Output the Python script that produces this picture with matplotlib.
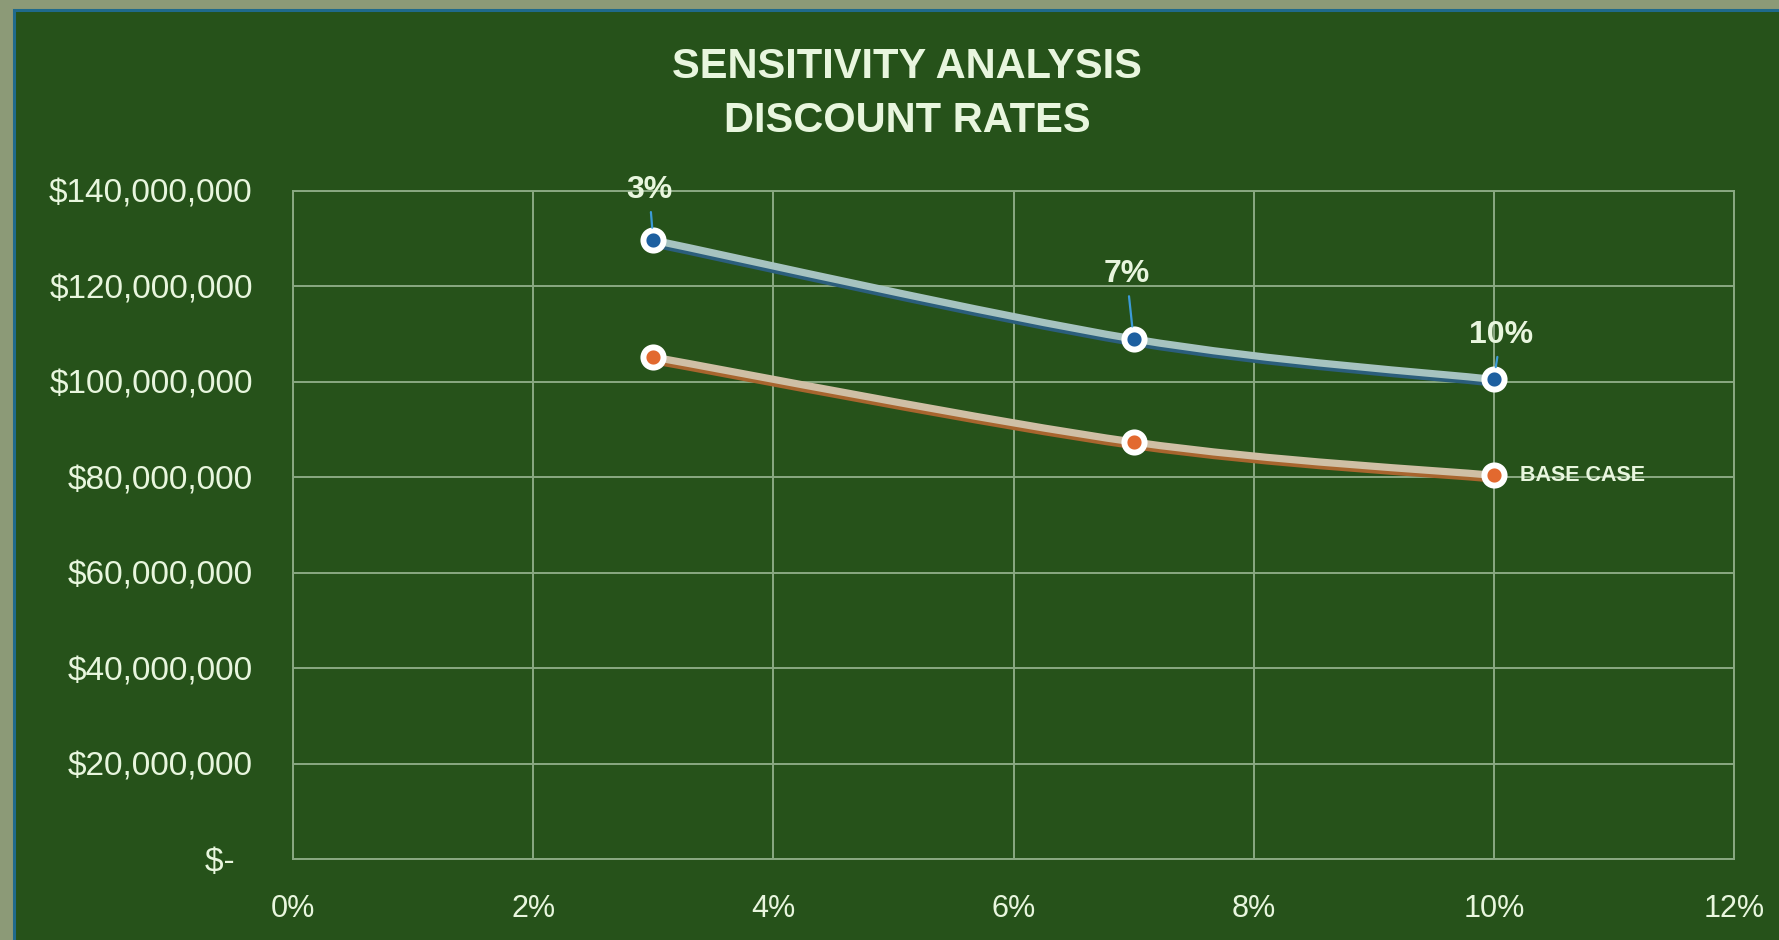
import numpy as np
import matplotlib
matplotlib.use("Agg")
import matplotlib.pyplot as plt
from matplotlib.path import Path
from matplotlib.patches import PathPatch, Rectangle
from matplotlib.transforms import ScaledTranslation
from matplotlib.ticker import FuncFormatter, PercentFormatter

# Discount rates tested and resulting values
rates = [0.03, 0.07, 0.10]
rate_labels = ["3%", "7%", "10%"]
sensitivity_values = [129.7e6, 109.0e6, 100.5e6]
base_case_values = [105.2e6, 87.4e6, 80.4e6]
base_case_label = "BASE CASE"

x_ticks = [0.0, 0.02, 0.04, 0.06, 0.08, 0.10, 0.12]
y_ticks = [0, 20e6, 40e6, 60e6, 80e6, 100e6, 120e6, 140e6]
title_lines = ["SENSITIVITY ANALYSIS", "DISCOUNT RATES"]

PANEL = "#26521a"
OUTER = "#8c9a77"
GRID = "#8aa982"
TEXT = "#e8f6de"

plt.rcParams["font.family"] = ["Liberation Sans", "DejaVu Sans"]

W, H = 1779, 940
fig = plt.figure(figsize=(W / 100, H / 100), dpi=100)
fig.patch.set_facecolor(OUTER)

# green chart panel with a thin blue border
fig.add_artist(Rectangle((14 / W, -0.01), 1.0, (H - 10) / H + 0.01,
                         transform=fig.transFigure, facecolor=PANEL,
                         edgecolor="#1f6a8c", lw=2.2, zorder=0))

ax = fig.add_axes([293 / W, 81 / H, 1441 / W, 668 / H])
ax.set_facecolor(PANEL)
ax.set_xlim(0, 0.12)
ax.set_ylim(0, 140e6)
ax.set_xticks(x_ticks)
ax.set_yticks(y_ticks)
ax.grid(True, color=GRID, lw=1.4)
ax.set_axisbelow(True)
for sp in ax.spines.values():
    sp.set_color(GRID)
    sp.set_linewidth(1.4)


def money(v, _pos):
    return "$-  " if v == 0 else f"${v:,.0f}"


ax.yaxis.set_major_formatter(FuncFormatter(money))
ax.xaxis.set_major_formatter(PercentFormatter(xmax=1, decimals=0))
ax.tick_params(axis="y", length=0, pad=29, labelsize=24, labelcolor=TEXT)
ax.tick_params(axis="x", length=0, pad=25, labelsize=22, labelcolor=TEXT)


def smooth_path(xs, ys):
    pts = np.column_stack([xs, ys]).astype(float)
    n = len(pts)
    verts, codes = [pts[0]], [Path.MOVETO]
    for i in range(n - 1):
        p0 = pts[i - 1] if i > 0 else pts[i]
        p1, p2 = pts[i], pts[i + 1]
        p3 = pts[i + 2] if i + 2 < n else pts[i + 1]
        verts += [p1 + (p2 - p0) / 6, p2 - (p3 - p1) / 6, p2]
        codes += [Path.CURVE4] * 3
    return Path(verts, codes)


shadow_tr = ax.transData + ScaledTranslation(0, -2.6 / 72, fig.dpi_scale_trans)


def draw_series(ys, light, dark, fill):
    path = smooth_path(rates, ys)
    ax.add_patch(PathPatch(path, facecolor="none", edgecolor=dark, lw=5.2,
                           capstyle="round", transform=shadow_tr, zorder=3))
    ax.add_patch(PathPatch(path, facecolor="none", edgecolor=light, lw=5.2,
                           capstyle="round", zorder=4))
    ax.plot(rates, ys, "o", ms=14.5, mfc=fill, mec="white", mew=4.3, zorder=5,
            clip_on=False)


draw_series(sensitivity_values, "#a6c3c0", "#2b5e7c", "#1d5fa0")
draw_series(base_case_values, "#cfbfa5", "#a8652e", "#e2692f")

# rate labels with leader lines above the sensitivity points
offsets = [(-3, 36), (-5, 46.5), (5, 32)]
for xv, yv, lab, off in zip(rates, sensitivity_values, rate_labels, offsets):
    ax.annotate(lab, (xv, yv), xytext=off, textcoords="offset points",
                ha="center", va="center", fontsize=23, fontweight="bold",
                color=TEXT, zorder=6,
                arrowprops=dict(arrowstyle="-", color="#3c9ad6", lw=1.6,
                                shrinkA=3, shrinkB=9))

ax.annotate(base_case_label, (rates[-1], base_case_values[-1]),
            xytext=(19, 0), textcoords="offset points", ha="left",
            va="center", fontsize=15.5, fontweight="bold", color=TEXT, zorder=6)

fig.text(907 / W, 1 - 67 / H, title_lines[0], ha="center", va="center",
         fontsize=30, fontweight="bold", color=TEXT)
fig.text(907 / W, 1 - 121 / H, title_lines[1], ha="center", va="center",
         fontsize=30, fontweight="bold", color=TEXT)

fig.savefig("out.png", dpi=100, facecolor=fig.get_facecolor())
